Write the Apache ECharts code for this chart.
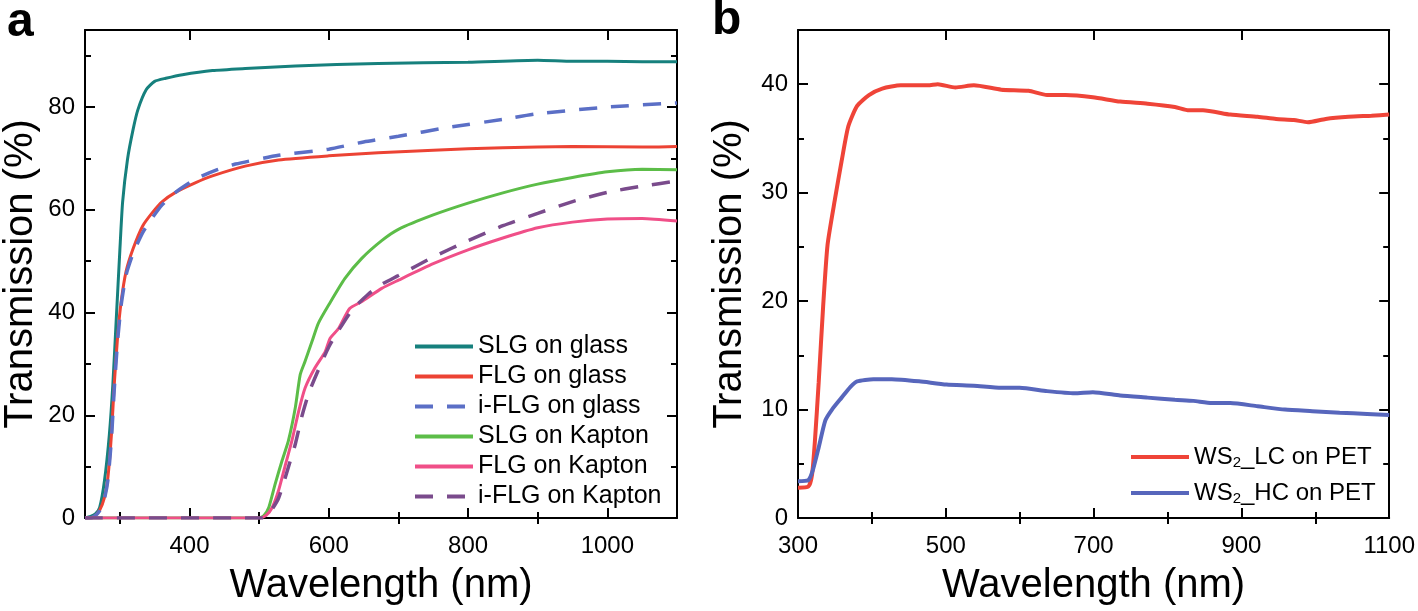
<!DOCTYPE html>
<html>
<head>
<meta charset="utf-8">
<script src="https://cdn.jsdelivr.net/npm/echarts@6/dist/echarts.min.js"></script>
<style>
  html, body { margin: 0; padding: 0; background: #fff; }
  #chart { width: 1418px; height: 611px; }
</style>
</head>
<body>
<div id="chart"></div>
<script>
// ---- panel a: graphene films (wavelength nm / transmission %) ----
const slgGlassWl = [250, 258, 265, 271, 278, 285, 290, 295, 300, 304, 311, 319, 326, 338, 350, 366, 390, 433, 480, 552, 671, 800, 900, 950, 1000, 1050, 1100];
const slgGlassT = [0, 0.3, 0.8, 2, 7.3, 16.3, 26, 39, 52, 61.5, 69.8, 75.6, 79.5, 83.4, 85, 85.6, 86.3, 87.1, 87.5, 88, 88.5, 88.7, 89.1, 88.9, 88.9, 88.8, 88.8];

const flgGlassWl = [250, 256, 263, 271, 278, 283, 288, 292, 297, 302, 309, 319, 333, 347, 361, 380, 409, 433, 480, 528, 600, 671, 750, 850, 950, 1050, 1100];
const flgGlassT = [0, 0, 0.3, 1.5, 4, 8, 16.3, 26, 35.6, 42.2, 48, 52.4, 56.9, 59.5, 61.6, 63.4, 65.3, 66.6, 68.5, 69.7, 70.5, 71.1, 71.6, 72.1, 72.3, 72.2, 72.3];

const iflgGlassWl = [250, 256, 263, 271, 278, 283, 288, 292, 297, 302, 309, 319, 333, 347, 361, 380, 409, 440, 466, 528, 600, 650, 700, 770, 850, 900, 1000, 1100];
const iflgGlassT = [0, 0, 0.3, 1.4, 3.8, 7.5, 15.5, 25, 34.8, 41.5, 47.3, 51.5, 55.6, 58.5, 61, 63.4, 66, 67.8, 68.9, 70.6, 71.8, 73.2, 74.3, 76, 77.6, 78.7, 80, 80.8];

const slgKaptonWl = [250, 500, 507, 514, 523, 533, 542, 552, 559, 566, 576, 585, 600, 623, 647, 676, 700, 750, 800, 850, 900, 950, 1000, 1050, 1100];
const slgKaptonT = [0, 0, 0.5, 2.1, 6.6, 11.2, 15, 21.5, 27.9, 30.5, 34.4, 37.9, 41.5, 46.6, 50.5, 54, 56.2, 59, 61.3, 63.3, 65, 66.3, 67.4, 67.9, 67.8];

const flgKaptonWl = [250, 502, 510, 519, 528, 538, 547, 557, 566, 580, 595, 602, 614, 630, 647, 676, 700, 750, 800, 850, 900, 950, 1000, 1050, 1100];
const flgKaptonT = [0, 0, 0.5, 2.1, 5.4, 10.5, 15, 20.9, 25.3, 29.2, 32.4, 35, 36.9, 40.8, 42.1, 44.7, 46.3, 49.5, 52.2, 54.5, 56.5, 57.6, 58.2, 58.3, 57.8];

const iflgKaptonWl = [250, 505, 515, 528, 542, 552, 561, 571, 585, 600, 614, 633, 657, 676, 700, 750, 800, 850, 900, 950, 1000, 1050, 1100];
const iflgKaptonT = [0, 0, 1, 3.9, 9.9, 14.4, 19.6, 24.2, 28.8, 33.3, 36.5, 40.4, 43.6, 45.5, 47.2, 50.8, 54, 56.9, 59.3, 61.6, 63.4, 64.6, 65.6];

// ---- panel b: WS2 on PET ----
const lcWl = [300, 314, 319, 323, 328, 334, 340, 350, 359, 368, 380, 396, 414, 439, 476, 489, 513, 538, 575, 612, 637, 662, 699, 736, 773, 810, 829, 848, 885, 922, 947, 971, 990, 1014, 1045, 1076, 1100];
const lcT = [2.8, 2.9, 4, 7.2, 12.5, 19.5, 25.2, 29.4, 32.9, 36.1, 38, 39, 39.6, 39.9, 39.9, 40, 39.7, 39.9, 39.5, 39.4, 39, 39, 38.8, 38.4, 38.2, 37.9, 37.6, 37.6, 37.2, 37, 36.8, 36.7, 36.5, 36.8, 37, 37.1, 37.2];

const hcWl = [300, 314, 320, 328, 337, 346, 359, 371, 380, 402, 427, 464, 501, 538, 575, 600, 637, 674, 699, 736, 773, 810, 835, 860, 885, 922, 959, 996, 1033, 1070, 1100];
const hcT = [3.4, 3.5, 4.4, 6.5, 9, 10, 11.1, 12.1, 12.6, 12.8, 12.8, 12.6, 12.3, 12.2, 12, 12, 11.7, 11.5, 11.6, 11.3, 11.1, 10.9, 10.8, 10.6, 10.6, 10.3, 10, 9.85, 9.7, 9.6, 9.5];

// ---- ticks ----
const aXMajor = [400, 600, 800, 1000];
const aXMinor = [300, 500, 700, 900];
const aYMajor = [0, 20, 40, 60, 80];
const aYMinor = [10, 30, 50, 70, 90];
const bXMajor = [300, 500, 700, 900, 1100];
const bXMinor = [400, 600, 800, 1000];
const bYMajor = [0, 10, 20, 30, 40];
const bYMinor = [5, 15, 25, 35];

const FONT = "'Liberation Sans', Arial, Helvetica, sans-serif";
const zip = (xs, ys) => xs.map((x, i) => [x, ys[i]]);

// four axes per direction: labelled side, mirrored side, and short minor ticks on both
function frameAxes(dir, gridIndex, min, max, major, minor, name, nameGap) {
  const pos = dir === 'x' ? ['bottom', 'top'] : ['left', 'right'];
  const base = {
    type: 'value', gridIndex, min, max,
    splitLine: { show: false },
    axisLine: { show: true, onZero: false, lineStyle: { color: '#000', width: 2 } },
    axisTick: { inside: true, length: 10, customValues: major, lineStyle: { color: '#000', width: 2 } },
    axisLabel: { show: false },
  };
  const minorAxis = (p) => ({
    ...base, position: p,
    axisLine: { show: false },
    axisTick: { inside: true, length: 6, customValues: minor, lineStyle: { color: '#000', width: 2 } },
  });
  return [
    {
      ...base, position: pos[0],
      name, nameLocation: 'middle', nameGap,
      nameTextStyle: { fontFamily: FONT, fontSize: 40, color: '#000' },
      axisLabel: {
        show: true, customValues: major, formatter: (v) => String(v),
        fontFamily: FONT, fontSize: 24, color: '#000', margin: dir === 'x' ? 16 : 10,
      },
    },
    { ...base, position: pos[1] },
    minorAxis(pos[0]),
    minorAxis(pos[1]),
  ];
}

function line(name, xs, ys, color, grid, dashed) {
  return {
    name, type: 'line', data: zip(xs, ys),
    xAxisIndex: grid * 4, yAxisIndex: grid * 4,
    showSymbol: false, symbol: 'none', smooth: 0.2,
    lineStyle: dashed
      ? { color, width: 3.5, type: [18, 14] }
      : { color, width: grid === 1 ? 4 : 3 },
    itemStyle: { color },
  };
}

const chart = echarts.init(document.getElementById('chart'));

chart.setOption({
  animation: false,
  backgroundColor: '#fff',
  grid: [
    { left: 82, top: 30, width: 595, height: 491 },
    { left: 798, top: 30, width: 592, height: 490 },
  ],
  xAxis: [
    ...frameAxes('x', 0, 250, 1100, aXMajor, aXMinor, 'Wavelength (nm)', 48),
    ...frameAxes('x', 1, 300, 1100, bXMajor, bXMinor, 'Wavelength (nm)', 48),
  ],
  yAxis: [
    ...frameAxes('y', 0, 0, 95, aYMajor, aYMinor, 'Transmission (%)', 44),
    ...frameAxes('y', 1, 0, 45, bYMajor, bYMinor, 'Transmission (%)', 48),
  ],
  legend: [
    {
      left: 413, top: 334, orient: 'vertical', padding: 0,
      itemWidth: 58, itemHeight: 14, itemGap: 5,
      itemStyle: { opacity: 0 },
      lineStyle: { width: 4 },
      textStyle: { fontFamily: FONT, fontSize: 25, color: '#000', lineHeight: 25 },
      data: ['SLG on glass', 'FLG on glass', 'i-FLG on glass', 'SLG on Kapton', 'FLG on Kapton', 'i-FLG on Kapton'],
    },
    {
      left: 1129, top: 443, orient: 'vertical', padding: 0,
      itemWidth: 58, itemHeight: 14, itemGap: 9,
      itemStyle: { opacity: 0 },
      lineStyle: { width: 4 },
      formatter: (n) => n === 'WS2_LC on PET' ? '{n|WS}{s|2}{n|_LC on PET}' : '{n|WS}{s|2}{n|_HC on PET}',
      textStyle: {
        fontFamily: FONT, fontSize: 24, color: '#000',
        rich: {
          n: { fontFamily: FONT, fontSize: 24, color: '#000', lineHeight: 26 },
          s: { fontFamily: FONT, fontSize: 15, color: '#000', lineHeight: 26, verticalAlign: 'bottom', padding: [12, 0, 0, 0] },
        },
      },
      data: ['WS2_LC on PET', 'WS2_HC on PET'],
    },
  ],
  series: [
    line('SLG on glass', slgGlassWl, slgGlassT, '#16807d', 0, false),
    line('FLG on glass', flgGlassWl, flgGlassT, '#ec4334', 0, false),
    line('i-FLG on glass', iflgGlassWl, iflgGlassT, '#5b6fc6', 0, true),
    line('SLG on Kapton', slgKaptonWl, slgKaptonT, '#5cbd48', 0, false),
    line('FLG on Kapton', flgKaptonWl, flgKaptonT, '#f04f88', 0, false),
    line('i-FLG on Kapton', iflgKaptonWl, iflgKaptonT, '#7a4b8c', 0, true),
    line('WS2_LC on PET', lcWl, lcT, '#ef4438', 1, false),
    line('WS2_HC on PET', hcWl, hcT, '#5766bc', 1, false),
  ],
  graphic: [
    { type: 'text', left: 7, top: -1, style: { text: 'a', font: "bold 48px " + FONT, fill: '#000' } },
    { type: 'text', left: 712, top: -3, style: { text: 'b', font: "bold 48px " + FONT, fill: '#000' } },
  ],
});
</script>
</body>
</html>
